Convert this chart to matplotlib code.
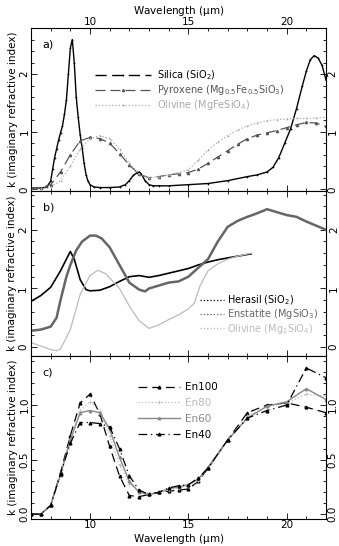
import matplotlib
matplotlib.use('Agg')
import matplotlib.pyplot as plt
from matplotlib.ticker import MultipleLocator

plt.rcParams['font.family'] = ['DejaVu Sans']
plt.rcParams['mathtext.default'] = 'regular'
plt.rcParams['font.size'] = 7.5

# panel a) - silica, pyroxene, olivine
silica_x = [7.0, 7.5, 7.8, 8.0, 8.1, 8.2, 8.3, 8.4, 8.5, 8.6, 8.7, 8.8, 8.9, 9.0, 9.1,
            9.2, 9.3, 9.4, 9.5, 9.6, 9.7, 9.8, 9.9, 10.0, 10.2, 10.5, 11.0, 11.5, 11.8,
            12.0, 12.2, 12.4, 12.5, 12.6, 12.8, 13.0, 13.2, 13.5, 14.0, 15.0, 16.0, 17.0,
            18.0, 18.5, 19.0, 19.3, 19.6, 19.9, 20.2, 20.5, 20.8, 21.0, 21.2, 21.4, 21.6,
            21.8, 22.0]
silica_k = [0.02, 0.02, 0.04, 0.14, 0.35, 0.55, 0.7, 0.85, 0.98, 1.1, 1.3, 1.55, 2.0, 2.45, 2.6,
            2.2, 1.6, 1.25, 0.95, 0.72, 0.45, 0.25, 0.14, 0.08, 0.04, 0.03, 0.03, 0.04, 0.08,
            0.15, 0.24, 0.29, 0.3, 0.27, 0.15, 0.08, 0.06, 0.06, 0.06, 0.08, 0.1, 0.15,
            0.22, 0.25, 0.3, 0.38, 0.55, 0.8, 1.05, 1.4, 1.8, 2.05, 2.25, 2.32, 2.28,
            2.15, 1.9]
grid_x = [7, 7.5, 8, 8.5, 9, 9.5, 10, 10.5, 11, 11.5, 12, 12.5, 13, 13.5, 14, 14.5, 15,
          15.5, 16, 16.5, 17, 17.5, 18, 18.5, 19, 19.5, 20, 20.5, 21, 21.5, 22]
pyroxene_k = [0.02, 0.03, 0.08, 0.3, 0.6, 0.84, 0.9, 0.88, 0.8, 0.62, 0.42, 0.26, 0.2, 0.22,
              0.25, 0.27, 0.29, 0.35, 0.45, 0.56, 0.67, 0.78, 0.88, 0.94, 0.98, 1.02, 1.07,
              1.12, 1.16, 1.15, 1.09]
olivine_a_k = [0.0, 0.01, 0.04, 0.15, 0.4, 0.7, 0.88, 0.93, 0.88, 0.7, 0.45, 0.27, 0.2, 0.22,
               0.25, 0.29, 0.34, 0.5, 0.68, 0.82, 0.93, 1.03, 1.1, 1.15, 1.19, 1.21, 1.22,
               1.23, 1.23, 1.24, 1.25]

# panel b) - Herasil, enstatite, olivine
herasil_x = [7, 7.5, 8, 8.5, 8.8, 9.0, 9.2, 9.5, 9.8, 10.0, 10.5, 11, 11.5, 12, 12.5, 13,
             13.5, 14, 14.5, 15, 15.5, 16, 16.5, 17, 17.5, 18.2]
herasil_k = [0.78, 0.88, 1.02, 1.3, 1.5, 1.63, 1.5, 1.15, 0.98, 0.96, 0.97, 1.03, 1.12, 1.2,
             1.22, 1.19, 1.22, 1.26, 1.3, 1.34, 1.4, 1.45, 1.49, 1.52, 1.55, 1.59]
enst_x = [7, 7.5, 8, 8.3, 8.5, 8.8, 9.0, 9.3, 9.6, 10, 10.3, 10.6, 11, 11.5, 12, 12.5, 12.8,
          13, 13.5, 14, 14.5, 15, 15.5, 16, 16.5, 17, 17.5, 18, 18.5, 19, 19.5, 20, 20.5,
          21, 21.5, 22]
enst_k = [0.28, 0.3, 0.35, 0.5, 0.8, 1.2, 1.4, 1.65, 1.8, 1.9, 1.9, 1.85, 1.7, 1.4, 1.1, 0.98,
          0.95, 1.0, 1.05, 1.1, 1.12, 1.2, 1.35, 1.5, 1.8, 2.05, 2.15, 2.22, 2.28, 2.35, 2.3,
          2.25, 2.22, 2.14, 2.07, 2.0]
oliv_b_x = [7, 7.5, 8, 8.3, 8.5, 9, 9.5, 10, 10.4, 10.8, 11.5, 12, 12.5, 13, 13.5, 14, 14.5,
            15, 15.3, 15.6, 16, 16.5, 17, 17.5, 18.2]
oliv_b_k = [0.08, 0.02, -0.04, -0.06, -0.03, 0.3, 0.9, 1.22, 1.31, 1.25, 1.0, 0.7, 0.45, 0.32,
            0.38, 0.47, 0.55, 0.65, 0.75, 1.05, 1.3, 1.42, 1.5, 1.55, 1.6]

# panel c) - En series
en_x = [7, 7.5, 8, 8.5, 9, 9.5, 10, 10.5, 11, 11.5, 12, 12.5, 13, 13.5, 14, 14.5, 15, 15.5,
        16, 17, 18, 19, 20, 21, 22]
en100 = [0, 0, 0.08, 0.38, 0.72, 1.02, 1.1, 0.92, 0.62, 0.35, 0.17, 0.16, 0.18, 0.2, 0.21,
         0.22, 0.23, 0.3, 0.42, 0.68, 0.93, 1.0, 1.02, 0.98, 0.93]
en80 = [0, 0, 0.08, 0.36, 0.68, 0.95, 1.03, 0.95, 0.72, 0.45, 0.28, 0.2, 0.19, 0.2, 0.22,
        0.24, 0.26, 0.3, 0.42, 0.68, 0.9, 0.98, 1.02, 1.1, 1.08]
en60 = [0, 0, 0.08, 0.36, 0.68, 0.93, 0.95, 0.93, 0.78, 0.52, 0.3, 0.2, 0.18, 0.2, 0.23,
        0.25, 0.27, 0.32, 0.43, 0.68, 0.88, 0.99, 1.03, 1.15, 1.05]
en40 = [0, 0, 0.08, 0.37, 0.65, 0.84, 0.84, 0.83, 0.8, 0.6, 0.35, 0.22, 0.18, 0.2, 0.24,
        0.26, 0.27, 0.33, 0.42, 0.68, 0.88, 0.95, 1.0, 1.34, 1.25]

fig = plt.figure(figsize=(3.39, 5.46), dpi=100)
L, W = 31 / 339, 295 / 339
axa = fig.add_axes([L, 1 - 191 / 546, W, 163 / 546])
axb = fig.add_axes([L, 1 - 356 / 546, W, 165 / 546])
axc = fig.add_axes([L, 1 - 519 / 546, W, 163 / 546])

dark = '#555555'
light = '#aaaaaa'

axa.plot(silica_x, silica_k, color='black', lw=1.0, marker='+', ms=2, mew=0.5,
         label='Silica (SiO$_2$)')
axa.plot(grid_x, pyroxene_k, color=dark, lw=0.9, ls=(0, (8, 4)), marker='^', ms=1.6,
         label='Pyroxene (Mg$_{0.5}$Fe$_{0.5}$SiO$_3$)')
axa.plot(grid_x, olivine_a_k, color=light, lw=0.9, ls=':', marker='+', ms=2, mew=0.5,
         label='Olivine (MgFeSiO$_4$)')
axa.set_ylim(-0.03, 2.8)
axa.yaxis.set_major_locator(MultipleLocator(1))
axa.yaxis.set_minor_locator(MultipleLocator(0.2))
la = axa.legend(loc='upper left', bbox_to_anchor=(0.2, 0.78), frameon=False,
                labelcolor='linecolor', handlelength=5.8, labelspacing=0.1,
                borderpad=0, handletextpad=0.6, fontsize=7)
la.legend_handles[0].set_linestyle((0, (8, 4)))

axb.plot(herasil_x, herasil_k, color='black', lw=1.2, label='Herasil (SiO$_2$)')
axb.plot(enst_x, enst_k, color='#666666', lw=1.8, label='Enstatite (MgSiO$_3$)')
axb.plot(oliv_b_x, oliv_b_k, color='#bbbbbb', lw=0.9, label='Olivine (Mg$_2$SiO$_4$)')
axb.set_ylim(-0.15, 2.66)
axb.yaxis.set_major_locator(MultipleLocator(1))
axb.yaxis.set_minor_locator(MultipleLocator(0.2))
lb = axb.legend(loc='upper left', bbox_to_anchor=(0.555, 0.41), frameon=False,
                labelcolor='linecolor', handlelength=2.5, labelspacing=0.05,
                borderpad=0, handletextpad=0.3, fontsize=7)
for h in lb.legend_handles:
    h.set_linestyle(':')
    h.set_linewidth(0.9)

axc.plot(en_x, en100, color='black', lw=0.9, ls=(0, (7, 4)), marker='^', ms=2, label='En100')
axc.plot(en_x, en80, color='#bbbbbb', lw=0.9, ls=':', marker='+', ms=2.5, mew=0.5,
         label='En80')
axc.plot(en_x, en60, color='#888888', lw=1.0, ls='-', marker='^', ms=1.8, label='En60')
axc.plot(en_x, en40, color='black', lw=0.9, ls=(0, (7, 3, 1, 3)), marker='^', ms=2,
         label='En40')
axc.set_ylim(-0.045, 1.45)
axc.yaxis.set_major_locator(MultipleLocator(0.5))
axc.yaxis.set_minor_locator(MultipleLocator(0.1))
axc.legend(loc='upper left', bbox_to_anchor=(0.345, 0.87), frameon=False,
           labelcolor='linecolor', handlelength=4, labelspacing=0.55,
           borderpad=0, handletextpad=0.5, fontsize=7.5)

for ax, lab in zip([axa, axb, axc], ['a)', 'b)', 'c)']):
    ax.set_xlim(7, 22)
    ax.xaxis.set_major_locator(MultipleLocator(5))
    ax.xaxis.set_minor_locator(MultipleLocator(1))
    ax.tick_params(which='both', direction='in', top=True, right=True,
                   labelbottom=False, labeltop=False, labelright=True, labelsize=7.5)
    ax.tick_params(which='major', length=4, width=0.6)
    ax.tick_params(which='minor', length=2, width=0.6)
    ax.tick_params(axis='y', which='major', pad=2)
    for t in ax.get_yticklabels(which='major'):
        t.set_rotation(90)
        t.set_va('center')
    ax.set_ylabel('k (imaginary refractive index)', fontsize=7.5, labelpad=1)
    ax.text(0.04, 0.93, lab, transform=ax.transAxes, fontsize=8, va='top', ha='left')
    for s in ax.spines.values():
        s.set_linewidth(0.8)

axa.tick_params(labeltop=True, pad=1)
axa.xaxis.set_label_position('top')
axa.set_xlabel('Wavelength ($\\mu$m)', fontsize=7.5, labelpad=2)
axc.tick_params(labelbottom=True, pad=1)
axc.set_xlabel('Wavelength ($\\mu$m)', fontsize=7.5, labelpad=1)

fig.savefig('out.png', dpi=100)
